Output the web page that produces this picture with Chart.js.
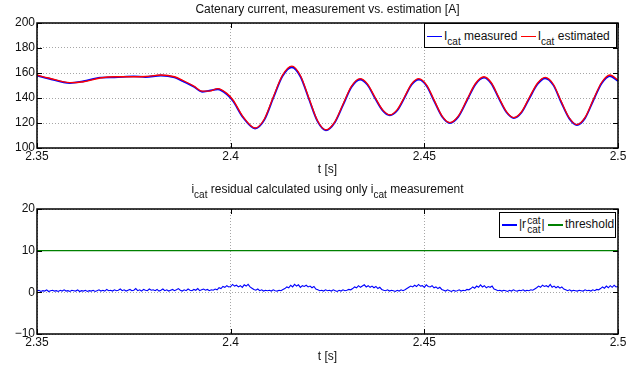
<!DOCTYPE html>
<html>
<head>
<meta charset="utf-8">
<script src="https://cdn.jsdelivr.net/npm/chart.js@4/dist/chart.umd.min.js"></script>
<style>
  body { margin: 0; background: #fff; }
  #wrap { position: relative; width: 644px; height: 370px; overflow: hidden;
          font-family: "Liberation Sans", Arial, Helvetica, sans-serif; color: #111; }
  canvas { position: absolute; left: 0; }
  .txt { position: absolute; font-size: 12px; line-height: 14px; white-space: nowrap; }
  .center { text-align: center; }
  sub { font-size: 10px; line-height: 0; vertical-align: -5px; }
  .legend { position: absolute; box-sizing: border-box; border: 1.5px solid #000; background: #fff;
            display: flex; align-items: center; padding-left: 2px; font-size: 12px; white-space: nowrap; }
  .legend > span { line-height: 14px; }
  .sw { display: inline-block; width: 15px; height: 1.5px; vertical-align: middle; margin-right: 2px; }
  .stack { display: inline-block; vertical-align: middle; font-size: 10px; line-height: 9px; margin: 0 1px; text-align: center; }
  .stack span { display: block; }
</style>
</head>
<body>
<div id="wrap">
  <canvas id="cTop" width="644" height="185" style="top:0"></canvas>
  <canvas id="cBot" width="644" height="185" style="top:185px"></canvas>

  <div class="txt center" style="left:37px;width:581px;top:2px">Catenary current, measurement vs. estimation [A]</div>
  <div class="txt center" style="left:37px;width:581px;top:162px">t [s]</div>
  <div class="txt center" style="left:37px;width:581px;top:182px">i<sub>cat</sub> residual calculated using only i<sub>cat</sub> measurement</div>
  <div class="txt center" style="left:37px;width:581px;top:349px">t [s]</div>

  <div class="legend" style="left:424px;top:23px;width:193px;height:25px">
    <span><span class="sw" style="background:#0000ff"></span>I<sub>cat</sub> measured <span class="sw" style="background:#ff0000"></span>I<sub>cat</sub> estimated</span>
  </div>
  <div class="legend" style="left:499px;top:212px;width:117px;height:26px">
    <span><span class="sw" style="background:#0000ff"></span>|r<span class="stack"><span>cat</span><span>cat</span></span>| <span class="sw" style="background:#008000"></span>threshold</span>
  </div>
</div>

<script>
// x axis (time in seconds)
const xTicks = [2.35, 2.4, 2.45, 2.5];
const xTickLabels = ['2.35', '2.4', '2.45', '2.5'];

// top plot: catenary current [A]
const currentTicks = [100, 120, 140, 160, 180, 200];
const currentTime = [
  2.350, 2.353, 2.3585, 2.362, 2.3663, 2.370, 2.375, 2.378, 2.382, 2.3855,
  2.3877, 2.3905, 2.3926, 2.3945, 2.3967, 2.399, 2.4006, 2.4032, 2.4063,
  2.4087, 2.411, 2.4134, 2.4158,
  2.418, 2.4202, 2.4224, 2.4246,
  2.4268, 2.429, 2.4312, 2.4334,
  2.4353, 2.4372, 2.4392, 2.4411,
  2.443, 2.4449, 2.4467, 2.4486,
  2.4506, 2.4526, 2.4546, 2.4566,
  2.4588, 2.461, 2.4632, 2.4654,
  2.4673, 2.4692, 2.4712, 2.4731,
  2.4751, 2.4771, 2.4792, 2.4812,
  2.4833, 2.4853, 2.4874, 2.4894,
  2.4915, 2.4936, 2.4958, 2.4979,
  2.500
];
const measured = [
  158.0, 155.6, 152.0, 153.4, 156.3, 156.6, 157.3, 156.8, 158.0, 156.5,
  153.4, 149.0, 145.0, 145.9, 147.0, 143.0, 137.6, 124.4, 115.6,
  122.5, 140.0, 157.6, 164.6,
  157.2, 139.2, 121.5, 114.2,
  120.0, 134.3, 148.8, 154.8,
  150.6, 140.2, 130.1, 126.2,
  130.0, 140.3, 150.6, 154.7,
  149.6, 137.1, 125.0, 120.0,
  125.1, 137.9, 150.9, 156.3,
  151.5, 139.9, 128.6, 124.0,
  128.4, 139.6, 151.0, 155.8,
  150.3, 136.8, 123.7, 118.4,
  123.9, 137.8, 151.8, 157.6,
  153.6
];
const estimated = [
  158.4, 156.0, 152.3, 153.0, 156.0, 157.0, 157.0, 157.2, 158.4, 157.0,
  154.0, 149.5, 145.5, 145.5, 147.5, 143.7, 138.4, 125.0, 116.0,
  123.2, 140.8, 158.3, 165.5,
  158.0, 140.0, 122.0, 114.5,
  120.5, 135.0, 149.5, 155.5,
  151.3, 141.0, 130.7, 126.5,
  130.7, 141.0, 151.3, 155.5,
  150.3, 137.9, 125.5, 120.3,
  125.7, 138.7, 151.6, 157.0,
  152.2, 140.7, 129.1, 124.3,
  129.0, 140.4, 151.8, 156.5,
  151.0, 137.6, 124.2, 118.7,
  124.5, 138.6, 152.6, 158.4,
  154.4
];

// bottom plot: residual |r| and threshold
const residualTicks = [-10, 0, 10, 20];
const residualTime = [
  2.3500, 2.3505, 2.3510, 2.3515, 2.3520, 2.3525, 2.3530, 2.3535, 2.3540, 2.3545,
  2.3550, 2.3555, 2.3560, 2.3565, 2.3570, 2.3575, 2.3580, 2.3585, 2.3590, 2.3595,
  2.3600, 2.3605, 2.3610, 2.3615, 2.3620, 2.3625, 2.3630, 2.3635, 2.3640, 2.3645,
  2.3650, 2.3655, 2.3660, 2.3665, 2.3670, 2.3675, 2.3680, 2.3685, 2.3690, 2.3695,
  2.3700, 2.3705, 2.3710, 2.3715, 2.3720, 2.3725, 2.3730, 2.3735, 2.3740, 2.3745,
  2.3750, 2.3755, 2.3760, 2.3765, 2.3770, 2.3775, 2.3780, 2.3785, 2.3790, 2.3795,
  2.3800, 2.3805, 2.3810, 2.3815, 2.3820, 2.3825, 2.3830, 2.3835, 2.3840, 2.3845,
  2.3850, 2.3855, 2.3860, 2.3865, 2.3870, 2.3875, 2.3880, 2.3885, 2.3890, 2.3895,
  2.3900, 2.3905, 2.3910, 2.3915, 2.3920, 2.3925, 2.3930, 2.3935, 2.3940, 2.3945,
  2.3950, 2.3955, 2.3960, 2.3965, 2.3970, 2.3975, 2.3980, 2.3985, 2.3990, 2.3995,
  2.4000, 2.4005, 2.4010, 2.4015, 2.4020, 2.4025, 2.4030, 2.4035, 2.4040, 2.4045,
  2.4050, 2.4055, 2.4060, 2.4065, 2.4070, 2.4075, 2.4080, 2.4085, 2.4090, 2.4095,
  2.4100, 2.4105, 2.4110, 2.4115, 2.4120, 2.4125, 2.4130, 2.4135, 2.4140, 2.4145,
  2.4150, 2.4155, 2.4160, 2.4165, 2.4170, 2.4175, 2.4180, 2.4185, 2.4190, 2.4195,
  2.4200, 2.4205, 2.4210, 2.4215, 2.4220, 2.4225, 2.4230, 2.4235, 2.4240, 2.4245,
  2.4250, 2.4255, 2.4260, 2.4265, 2.4270, 2.4275, 2.4280, 2.4285, 2.4290, 2.4295,
  2.4300, 2.4305, 2.4310, 2.4315, 2.4320, 2.4325, 2.4330, 2.4335, 2.4340, 2.4345,
  2.4350, 2.4355, 2.4360, 2.4365, 2.4370, 2.4375, 2.4380, 2.4385, 2.4390, 2.4395,
  2.4400, 2.4405, 2.4410, 2.4415, 2.4420, 2.4425, 2.4430, 2.4435, 2.4440, 2.4445,
  2.4450, 2.4455, 2.4460, 2.4465, 2.4470, 2.4475, 2.4480, 2.4485, 2.4490, 2.4495,
  2.4500, 2.4505, 2.4510, 2.4515, 2.4520, 2.4525, 2.4530, 2.4535, 2.4540, 2.4545,
  2.4550, 2.4555, 2.4560, 2.4565, 2.4570, 2.4575, 2.4580, 2.4585, 2.4590, 2.4595,
  2.4600, 2.4605, 2.4610, 2.4615, 2.4620, 2.4625, 2.4630, 2.4635, 2.4640, 2.4645,
  2.4650, 2.4655, 2.4660, 2.4665, 2.4670, 2.4675, 2.4680, 2.4685, 2.4690, 2.4695,
  2.4700, 2.4705, 2.4710, 2.4715, 2.4720, 2.4725, 2.4730, 2.4735, 2.4740, 2.4745,
  2.4750, 2.4755, 2.4760, 2.4765, 2.4770, 2.4775, 2.4780, 2.4785, 2.4790, 2.4795,
  2.4800, 2.4805, 2.4810, 2.4815, 2.4820, 2.4825, 2.4830, 2.4835, 2.4840, 2.4845,
  2.4850, 2.4855, 2.4860, 2.4865, 2.4870, 2.4875, 2.4880, 2.4885, 2.4890, 2.4895,
  2.4900, 2.4905, 2.4910, 2.4915, 2.4920, 2.4925, 2.4930, 2.4935, 2.4940, 2.4945,
  2.4950, 2.4955, 2.4960, 2.4965, 2.4970, 2.4975, 2.4980, 2.4985, 2.4990, 2.4995,
  2.5000
];
const residual = [
  0.3, 0.5, 0.2, 0.4, 0.3, 0.6, 0.2, 0.4, 0.5, 0.3,
  0.4, 0.2, 0.5, 0.3, 0.6, 0.3, 0.4, 0.2, 0.5, 0.4,
  0.3, 0.6, 0.2, 0.4, 0.3, 0.5, 0.2, 0.4, 0.3, 0.5,
  0.2, 0.4, 0.6, 0.3, 0.5, 0.3, 0.7, 0.4, 0.5, 0.3,
  0.6, 0.4, 0.5, 0.8, 0.4, 0.6, 0.3, 0.5, 0.7, 0.4,
  0.5, 0.9, 0.4, 0.6, 0.3, 0.7, 0.5, 0.4, 0.8, 0.5,
  0.6, 0.4, 0.7, 0.3, 0.5, 0.8, 0.4, 0.6, 0.3, 0.5,
  0.7, 0.4, 0.6, 0.9, 0.5, 0.3, 0.6, 0.4, 0.8, 0.5,
  0.4, 0.7, 0.5, 0.9, 0.4, 0.6, 0.8, 0.5, 0.7, 0.4,
  0.6, 0.5, 0.8, 0.6, 1.1, 0.9, 1.4, 1.2, 1.6, 1.3,
  1.4, 1.9, 1.5, 1.7, 1.3, 1.6, 1.2, 1.8, 1.5, 1.9,
  1.3, 1.0, 0.7, 0.5, 0.8, 0.4, 0.6, 0.3, 0.5, 0.4,
  0.5, 0.3, 0.6, 0.4, 0.3, 0.5, 0.4, 0.7, 0.9, 1.3,
  1.1, 1.7, 1.3, 1.9, 1.5, 1.8, 1.2, 1.6, 1.4, 1.7,
  1.3, 1.5, 1.1, 1.4, 0.8, 0.6, 0.4, 0.5, 0.3, 0.6,
  0.4, 0.5, 0.3, 0.6, 0.4, 0.2, 0.5, 0.3, 0.6, 0.4,
  0.5, 0.7, 0.6, 0.9, 1.3, 1.1, 1.6, 1.2, 1.5, 1.8,
  1.3, 1.6, 1.2, 1.5, 1.1, 1.4, 0.9, 1.2, 0.7, 0.5,
  0.4, 0.6, 0.3, 0.5, 0.4, 0.2, 0.5, 0.3, 0.6, 0.4,
  0.6, 0.9, 1.2, 1.5, 1.3, 1.7, 1.4, 1.9, 1.5, 1.6,
  1.2, 1.8, 1.4, 1.3, 1.6, 1.1, 1.3, 0.9, 1.2, 0.7,
  0.5, 0.3, 0.6, 0.4, 0.2, 0.5, 0.3, 0.4, 0.6, 0.3,
  0.5, 0.4, 0.7, 0.6, 0.9, 1.3, 1.0, 1.5, 1.2, 1.8,
  1.3, 1.6, 1.1, 1.4, 1.2, 1.5, 0.8, 0.6, 0.4, 0.5,
  0.3, 0.5, 0.4, 0.2, 0.5, 0.3, 0.6, 0.4, 0.3, 0.5,
  0.4, 0.6, 0.3, 0.5, 0.4, 0.6, 0.5, 0.8, 1.1, 1.5,
  1.2, 1.7, 1.4, 1.6, 1.3, 1.9, 1.2, 1.5, 1.1, 1.4,
  1.0, 1.3, 0.8, 0.6, 0.4, 0.6, 0.3, 0.5, 0.4, 0.3,
  0.5, 0.4, 0.3, 0.6, 0.4, 0.5, 0.3, 0.6, 0.4, 0.7,
  0.6, 0.9, 1.3, 1.0, 1.5, 1.1, 1.6, 1.2, 1.7, 1.3,
  1.4
];
const thresholdTime = [2.35, 2.5];
const threshold = [10, 10];

Chart.defaults.font.family = '"Liberation Sans", Arial, Helvetica, sans-serif';
Chart.defaults.font.size = 12;
Chart.defaults.color = '#111';

const pts = (xs, ys) => xs.map((x, i) => ({ x, y: ys[i] }));

// black box round the axes with inward tick marks (matlab style)
const frame = {
  id: 'frame',
  afterDraw(chart) {
    const { ctx, chartArea: a, scales: { x, y } } = chart;
    ctx.save();
    ctx.strokeStyle = '#000';
    ctx.lineWidth = 1;
    ctx.beginPath();
    x.ticks.forEach(t => {
      const px = Math.round(x.getPixelForValue(t.value)) + 0.5;
      ctx.moveTo(px, a.top); ctx.lineTo(px, a.top + 5);
      ctx.moveTo(px, a.bottom); ctx.lineTo(px, a.bottom - 5);
    });
    y.ticks.forEach(t => {
      const py = Math.round(y.getPixelForValue(t.value)) + 0.5;
      ctx.moveTo(a.left, py); ctx.lineTo(a.left + 5, py);
      ctx.moveTo(a.right, py); ctx.lineTo(a.right - 5, py);
    });
    ctx.stroke();
    ctx.lineWidth = 1.5;
    ctx.strokeRect(a.left, a.top, a.right - a.left, a.bottom - a.top);
    ctx.restore();
  }
};

function makeChart(id, datasets, yTicks, padTop, xHeight) {
  return new Chart(document.getElementById(id), {
    type: 'line',
    data: { datasets },
    options: {
      responsive: false,
      animation: false,
      layout: { padding: { top: padTop, right: 26, left: 0, bottom: 0 } },
      plugins: { legend: { display: false }, title: { display: false }, tooltip: { enabled: false } },
      elements: { point: { radius: 0 } },
      scales: {
        x: {
          type: 'linear', min: xTicks[0], max: xTicks[xTicks.length - 1],
          afterBuildTicks: s => { s.ticks = xTicks.map(v => ({ value: v })); },
          afterFit: s => { s.height = xHeight; },
          ticks: { padding: 1, maxRotation: 0, autoSkip: false,
                   callback: (v, i) => xTickLabels[i] },
          grid: { color: 'rgba(0,0,0,0.35)', drawTicks: false },
          border: { display: false, dash: [1, 2] }
        },
        y: {
          min: yTicks[0], max: yTicks[yTicks.length - 1],
          afterBuildTicks: s => { s.ticks = yTicks.map(v => ({ value: v })); },
          afterFit: s => { s.width = 37; },
          ticks: { padding: 2, autoSkip: false,
                   callback: v => String(v).replace('-', '\u2212') },
          grid: { color: 'rgba(0,0,0,0.35)', drawTicks: false },
          border: { display: false, dash: [1, 2] }
        }
      }
    },
    plugins: [frame]
  });
}

// first dataset is painted last, so the red estimate lies on top of the blue measurement
makeChart('cTop', [
  { data: pts(currentTime, estimated), borderColor: '#ff0000', borderWidth: 1.3, cubicInterpolationMode: 'monotone' },
  { data: pts(currentTime, measured), borderColor: '#0000ff', borderWidth: 1.8, cubicInterpolationMode: 'monotone' }
], currentTicks, 23, 37);

makeChart('cBot', [
  { data: pts(residualTime, residual), borderColor: '#0000ff', borderWidth: 1.1, tension: 0 },
  { data: pts(thresholdTime, threshold), borderColor: '#008000', borderWidth: 1.2, tension: 0 }
], residualTicks, 24, 36);
</script>
</body>
</html>
